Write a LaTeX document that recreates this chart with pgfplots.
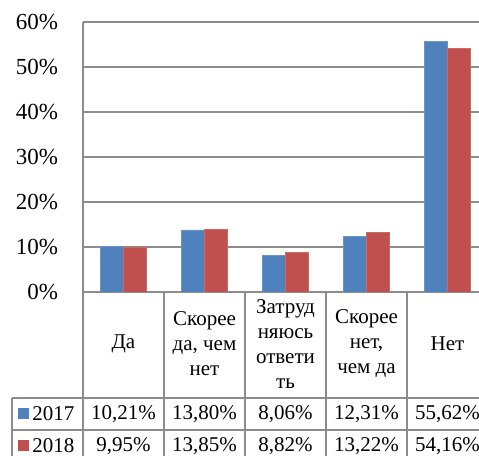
\documentclass[border=0pt]{standalone}
\usepackage{fontspec}
\setmainfont{LiberationSerif}[Extension=.ttf, UprightFont=*-Regular, BoldFont=*-Bold, ItalicFont=*-Italic]
\usepackage{pgfplots}
\pgfplotsset{compat=1.18}
\definecolor{b17}{HTML}{4F81BD}
\definecolor{r18}{HTML}{C0504D}
\definecolor{gridgray}{HTML}{8C8C8C}

\begin{document}
\begin{tikzpicture}
\useasboundingbox (0,0) rectangle (239.5pt,228pt);
\clip (0,0) rectangle (239.5pt,228pt);
\begin{axis}[
  at={(41.5pt,82pt)}, anchor=south west,
  scale only axis, width=202.5pt, height=135pt,
  ybar=0pt, bar width=11.5pt,
  xmin=-0.5, xmax=4.5, ymin=0, ymax=60,
  ytick={0,10,...,60},
  yticklabel={\pgfmathprintnumber{\tick}\%},
  /pgf/number format/assume math mode=true,
  xtick={0,...,4},
  xticklabels={{Да},{Скорее\\да, чем\\нет},{Затруд\\няюсь\\ответи\\ть},{Скорее\\нет,\\чем да},{Нет}},
  axis lines*=left,
  axis line style={draw=gridgray, line width=0.6pt},
  ymajorgrids, grid style={draw=gridgray, line width=0.6pt},
  major tick length=0pt,
  yticklabel style={font=\fontsize{11.5}{13}\selectfont, anchor=east, xshift=-9pt},
  xticklabel style={font=\fontsize{10.5}{12.5}\selectfont, align=center, anchor=center, yshift=-26pt},
]
\addplot[fill=b17, draw=b17!85!white] coordinates {
  (0,10.21) (1,13.80) (2,8.06) (3,12.31) (4,55.62)
};
\addplot[fill=r18, draw=r18!85!white] coordinates {
  (0,9.95) (1,13.85) (2,8.82) (3,13.22) (4,54.16)
};
\end{axis}
% data table below the axis, in pixel units (y downward)
\begin{scope}[x=0.5pt, y=-0.5pt, shift={(0,228pt)}]
  \draw[gridgray, line width=0.6pt] (12,398) -- (492,398);
  \draw[gridgray, line width=0.6pt] (12,430) -- (492,430);
  \draw[gridgray, line width=0.6pt] (12,398) -- (12,470);
  \draw[gridgray, line width=0.6pt] (83,292) -- (83,470);
  \foreach \xx in {164,245,326,407}
    \draw[gridgray, line width=0.6pt] (\xx,292) -- (\xx,470);
  \fill[b17] (18,408) rectangle (29,419);
  \fill[r18] (18,440) rectangle (29,451);
  \begin{scope}[every node/.style={font=\fontsize{10.5}{12.5}\selectfont, inner sep=0pt}]
    \node[anchor=west] at (32,414) {2017};
    \node[anchor=west] at (32,446) {2018};
    \node at (123.5,414) {10,21\%};
    \node at (204.5,414) {13,80\%};
    \node at (285.5,414) {8,06\%};
    \node at (366.5,414) {12,31\%};
    \node at (447.5,414) {55,62\%};
    \node at (123.5,446) {9,95\%};
    \node at (204.5,446) {13,85\%};
    \node at (285.5,446) {8,82\%};
    \node at (366.5,446) {13,22\%};
    \node at (447.5,446) {54,16\%};
  \end{scope}
\end{scope}
\end{tikzpicture}
\end{document}
